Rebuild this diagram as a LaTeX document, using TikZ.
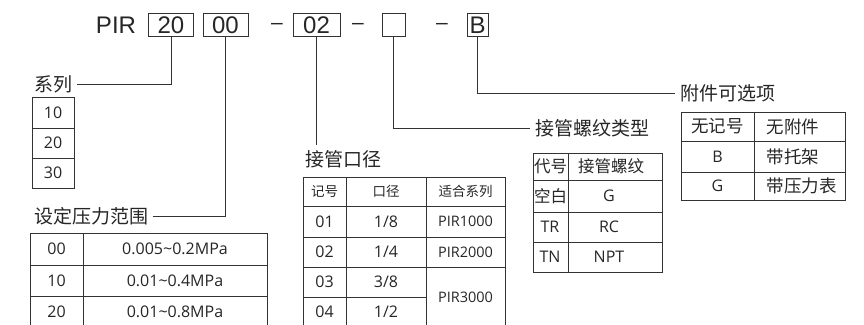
\documentclass[tikz,border=0pt]{standalone}
\usepackage{fontspec}
\setmainfont{Open Sans}
\newfontfamily\cjk{Noto Sans CJK SC}
\newfontfamily\arialf{Liberation Sans}
\usetikzlibrary{positioning}

\begin{document}
\begin{tikzpicture}[x=1pt,y=-1pt,line width=1pt,draw=black!80,text=black!85,
  codebox/.style={draw,minimum height=23pt,inner sep=0pt,font=\arialf\fontsize{24}{24}\selectfont},
  head/.style={inner sep=0pt,font=\arialf\fontsize{24}{24}\selectfont},
  sepmark/.style={inner sep=0pt,font=\arialf\fontsize{21}{21}\selectfont},
  title/.style={inner sep=1pt,outer sep=4pt,font=\cjk\fontsize{19}{19}\selectfont},
  cell/.style={inner sep=0pt,font=\fontsize{16}{16}\selectfont},
  small/.style={inner sep=0pt,font=\fontsize{14.5}{14.5}\selectfont},
  zh/.style={inner sep=0pt,font=\cjk\fontsize{16.5}{16.5}\selectfont}]
 \useasboundingbox (0,0) rectangle (864,324);
 \clip (0,0) rectangle (864,324);

 \node[head] (pir) at (116,25) {PIR};
 \node[codebox,minimum width=45pt] (c20) at (171,25) {20};
 \node[codebox,minimum width=45pt] (c00) at (225.5,25) {00};
 \node[sepmark] (d1) at (277,26) {–};
 \node[codebox,minimum width=47pt] (c02) at (316.5,25) {02};
 \node[sepmark] (d2) at (358,26) {–};
 \node[codebox,minimum width=23pt] (cx) at (393.5,25) {};
 \node[sepmark] (d3) at (442,26) {–};
 \node[codebox,minimum width=21pt] (cb) at (477.5,25) {B};

 \node[title,anchor=east] (tser) at (77,84) {系列};
 \node[title,anchor=east] (tpress) at (153,216) {设定压力范围};
 \node[title,anchor=north west] (tport) at (300,145) {接管口径};
 \node[title,anchor=west] (tthread) at (530,128) {接管螺纹类型};
 \node[title,anchor=west] (tacc) at (675,93) {附件可选项};
 \draw (c20.south) |- (tser.east);
 \draw (c00.south) |- (tpress.east);
 \draw (c02.south) -- (c02.south |- tport.north);
 \draw (cx.south) |- (tthread.west);
 \draw (cb.south) |- (tacc.west);

 \draw (32,97) rectangle (74,188) (32,128) -- (74,128) (32,158) -- (74,158);
 \node[cell] (s10) at (53,112.5) {10};
 \node[cell] (s20) at (53,143) {20};
 \node[cell] (s30) at (53,173) {30};

 \draw (30,233) rectangle (267,340) (83,233) -- (83,340)
   (30,265) -- (267,265) (30,296) -- (267,296);
 \node[cell] (p00) at (56.5,249) {00};
 \node[cell] (p00r) at (175,249) {0.005\char`\~0.2MPa};
 \node[cell] (p10) at (56.5,280.5) {10};
 \node[cell] (p10r) at (175,280.5) {0.01\char`\~0.4MPa};
 \node[cell] (p20) at (56.5,312) {20};
 \node[cell] (p20r) at (175,312) {0.01\char`\~0.8MPa};

 \draw (303,177) rectangle (505,340) (346,177) -- (346,340) (426,177) -- (426,340)
   (303,206) -- (505,206) (303,237) -- (505,237) (303,267) -- (505,267) (303,297) -- (426,297);
 \node[inner sep=0pt,font=\cjk\fontsize{13.5}{13.5}\selectfont] (hno) at (324.5,191.5) {记号};
 \node[inner sep=0pt,font=\cjk\fontsize{13.5}{13.5}\selectfont] (hdia) at (386,191.5) {口径};
 \node[inner sep=0pt,font=\cjk\fontsize{13.5}{13.5}\selectfont] (hfit) at (465.5,191.5) {适合系列};
 \node[cell] (n01) at (324.5,221.5) {01};
 \node[cell] (z01) at (386,221.5) {1/8};
 \node[small] (f01) at (465.5,221.5) {PIR1000};
 \node[cell] (n02) at (324.5,252) {02};
 \node[cell] (z02) at (386,252) {1/4};
 \node[small] (f02) at (465.5,252) {PIR2000};
 \node[cell] (n03) at (324.5,282) {03};
 \node[cell] (z03) at (386,282) {3/8};
 \node[cell] (n04) at (324.5,312) {04};
 \node[cell] (z04) at (386,312) {1/2};
 \node[small] (f03) at (465.5,297) {PIR3000};

 \draw (533,153) rectangle (662,272) (568,153) -- (568,272)
   (533,180) -- (662,180) (533,212) -- (662,212) (533,242) -- (662,242);
 \node[zh] (hcode) at (550.5,166.5) {代号};
 \node[zh] (hthr) at (611,166.5) {接管螺纹};
 \node[zh] (tb) at (550.5,196) {空白};
 \node[cell] (tg) at (609,196) {G};
 \node[cell] (ttr) at (550,227) {TR};
 \node[cell] (trc) at (609,227) {RC};
 \node[cell] (ttn) at (550,257) {TN};
 \node[cell] (tnpt) at (609,257) {NPT};

 \draw (681,112) rectangle (845,200) (754,112) -- (754,200)
   (681,141) -- (845,141) (681,172) -- (845,172);
 \node[inner sep=0pt,font=\cjk\fontsize{17.5}{17.5}\selectfont] (anone) at (717.5,126.5) {无记号};
 \node[inner sep=0pt,anchor=west,font=\cjk\fontsize{17.5}{17.5}\selectfont] (anoner) at (766,126.5) {无附件};
 \node[cell] (ab) at (717.5,156.5) {B};
 \node[inner sep=0pt,anchor=west,font=\cjk\fontsize{17.5}{17.5}\selectfont] (abr) at (766,156.5) {带托架};
 \node[cell] (ag) at (717.5,186) {G};
 \node[inner sep=0pt,anchor=west,font=\cjk\fontsize{17.5}{17.5}\selectfont] (agr) at (766,186) {带压力表};
\end{tikzpicture}
\end{document}
